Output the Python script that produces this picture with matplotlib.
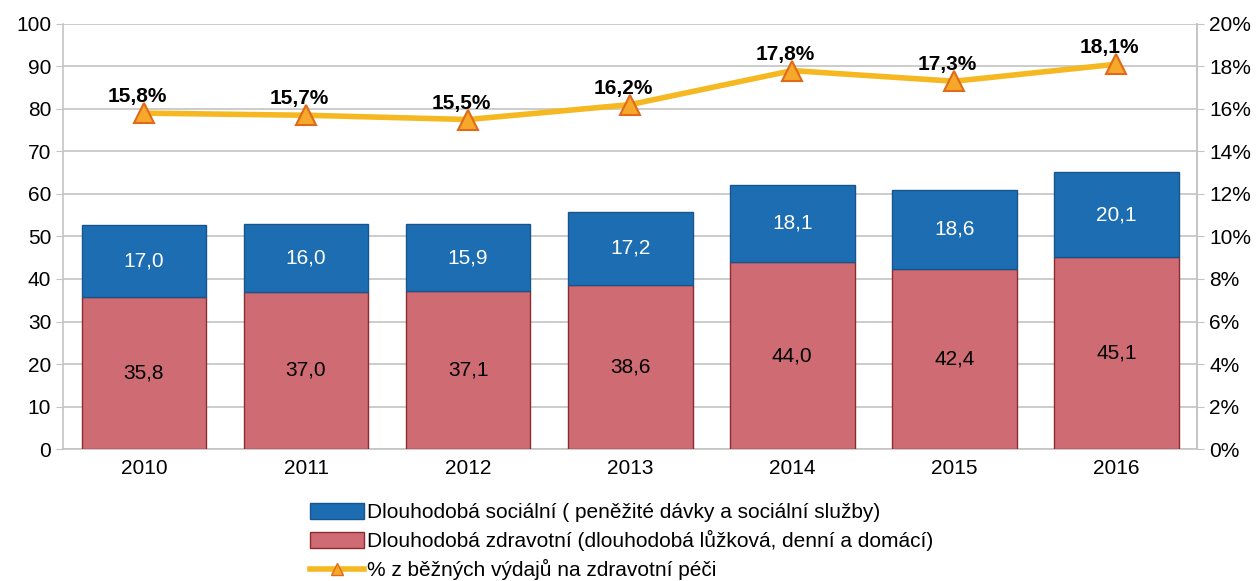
import numpy as np
import matplotlib
matplotlib.use("Agg")
import matplotlib.pyplot as plt
from matplotlib.lines import Line2D
from matplotlib.patches import Patch

plt.rcParams['font.family'] = ['Liberation Sans', 'DejaVu Sans']

years = ['2010', '2011', '2012', '2013', '2014', '2015', '2016']
zdravotni = [35.8, 37.0, 37.1, 38.6, 44.0, 42.4, 45.1]
socialni = [17.0, 16.0, 15.9, 17.2, 18.1, 18.6, 20.1]
podil = [15.8, 15.7, 15.5, 16.2, 17.8, 17.3, 18.1]

def cz(v, suffix=''):
    return f"{v:.1f}".replace('.', ',') + suffix

fig = plt.figure(figsize=(12.59, 5.81), dpi=100)
ax = fig.add_axes([0.050, 0.227, 0.901, 0.732])

x = np.arange(len(years))
red = '#CF6B73'
blue = '#1D6DB3'
gray = '#C4C4C4'

ax.bar(x, zdravotni, width=0.77, color=red, edgecolor='#8E2B2E', linewidth=1.0, zorder=3)
ax.bar(x, socialni, width=0.77, bottom=zdravotni, color=blue, edgecolor='#17558C', linewidth=1.0, zorder=3)

for i in range(len(years)):
    ax.text(x[i], zdravotni[i] / 2, cz(zdravotni[i]), ha='center', va='center', fontsize=15, color='black', zorder=5)
    ax.text(x[i], zdravotni[i] + socialni[i] / 2, cz(socialni[i]), ha='center', va='center', fontsize=15, color='white', zorder=5)

ax.set_xlim(-0.5, len(years) - 0.5)
ax.set_ylim(0, 100)
ax.set_yticks(np.arange(0, 101, 10))
ax.set_xticks(x)
ax.set_xticklabels(years)
ax.tick_params(axis='both', labelsize=15, color=gray, length=5)
ax.tick_params(axis='x', length=0, pad=7)
ax.yaxis.grid(True, color=gray, linewidth=1.2, zorder=0)
ax.set_axisbelow(True)
ax.spines['top'].set_visible(False)
for s in ['left', 'right', 'bottom']:
    ax.spines[s].set_color(gray)
    ax.spines[s].set_linewidth(1.2)

ax2 = ax.twinx()
ax2.set_ylim(0, 20)
ax2.set_yticks(np.arange(0, 21, 2))
ax2.set_yticklabels([f"{v}%" for v in range(0, 21, 2)])
ax2.tick_params(axis='y', labelsize=15, color=gray, length=5)
for s in ['top', 'left', 'bottom']:
    ax2.spines[s].set_visible(False)
ax2.spines['right'].set_color(gray)
ax2.spines['right'].set_linewidth(1.2)

ax2.plot(x, podil, color='#F5B820', linewidth=4, zorder=4,
         marker='^', markersize=14, markerfacecolor='#F5A82A', markeredgecolor='#E06A1A', markeredgewidth=1.5)
for i in range(len(years)):
    ax2.annotate(cz(podil[i], '%'), (x[i], podil[i]), xytext=(-5, 5), textcoords='offset points',
                 ha='center', va='bottom', fontsize=15, fontweight='bold', zorder=6)

handles = [Patch(facecolor=blue, edgecolor='#17558C'),
           Patch(facecolor=red, edgecolor='#8E2B2E'),
           Line2D([0], [0], color='#F5B820', linewidth=4, marker='^', markersize=9,
                  markerfacecolor='#F5A82A', markeredgecolor='#E06A1A')]
labels = ['Dlouhodobá sociální ( peněžité dávky a sociální služby)',
          'Dlouhodobá zdravotní (dlouhodobá lůžková, denní a domácí)',
          '% z běžných výdajů na zdravotní péči']
fig.legend(handles, labels, loc='upper left', bbox_to_anchor=(0.246, 0.134), frameon=False,
           fontsize=15, handlelength=2.6, handleheight=0.8, handletextpad=0.15, labelspacing=0.38,
           borderaxespad=0, borderpad=0)

fig.savefig('out.png', dpi=100)
